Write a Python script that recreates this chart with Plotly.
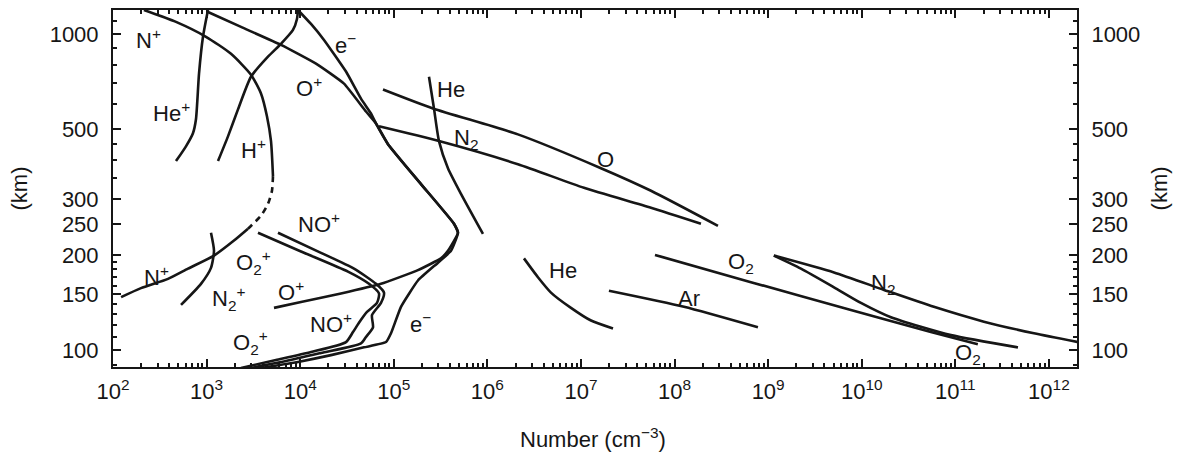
import math
import plotly.graph_objects as go

# ---- species profiles: number density (cm^-3) vs altitude (km) ----
# ions
he_plus_n = [1035, 915, 830, 770, 715, 602, 471]
he_plus_h = [1190, 979, 749, 537, 485, 441, 396]

h_plus_n = [1324, 1693, 2165, 2981, 4529, 6235, 8379, 9243, 9474]
h_plus_h = [396, 474, 577, 732, 847, 930, 1029, 1115, 1190]

n_plus_top_n = [214, 471, 985, 1823, 2981, 3813, 4420, 4877, 5121]
n_plus_top_h = [1190, 1091, 979, 865, 743, 648, 548, 458, 355]
n_plus_mid_n = [5121, 4996, 4529, 3813, 2769]
n_plus_mid_h = [355, 319, 290, 266, 242]
n_plus_low_n = [2769, 1962, 1200, 633, 387, 199, 122]
n_plus_low_h = [242, 222, 199, 181, 168, 157, 147]

n2_plus_n = [1114, 1200, 1114, 871, 533]
n2_plus_h = [235, 206, 182, 162, 139]

o_plus_n = [1035, 2331, 6235, 14750, 29380, 50470, 64540, 86710, 195300,
            439800, 485200, 379300, 319300, 181300, 72990, 27290, 10200, 5250]
o_plus_h = [1173, 1052, 923, 805, 696, 568, 521, 448, 335,
            251, 235, 206, 195, 179, 162, 151, 142, 136]

electron_n = [9474, 13050, 17960, 30860, 44630, 57070, 64540, 86710, 195300,
              439800, 485200, 408500, 296700, 181300, 119400, 93350, 82560,
              48040, 21340, 9474, 3813]
electron_h = [1190, 1075, 957, 760, 624, 560, 521, 448, 335,
              251, 235, 206, 189, 166, 137, 113, 106,
              102, 96.4, 91.7, 87.8]

o2_plus_n = [3541, 10200, 32410, 54330, 69490, 66140, 51720, 42480, 36660,
             30860, 13050, 5514, 2331]
o2_plus_h = [235, 205, 177, 162, 151, 141, 132, 122, 114, 106, 98.6, 93, 87.8]

no_plus_n = [5792, 16680, 37570, 64540, 78590, 72990, 58490, 59960, 50470,
             44630, 16680, 7052, 2981]
no_plus_h = [235, 203, 181, 162, 152, 141, 129, 118, 110, 105, 97.9, 92.3, 87.8]

# neutrals
he_high_n = [237800, 268900, 304100, 379300, 522400, 897400]
he_high_h = [732, 581, 458, 376, 312, 233]

n2_high_n = [69490, 304100, 2.12e6, 1.076e7, 5.6e7, 1.915e8]
n2_high_h = [510, 458, 387, 326, 282, 251]

o_high_n = [76680, 262300, 2.12e6, 1.636e7, 5.6e7, 2.909e8]
o_high_h = [667, 581, 481, 376, 319, 247]

he_low_n = [2.46e6, 3.47e6, 4.78e6, 7.82e6, 1.28e7, 2.2e7]
he_low_h = [195, 170, 152, 136, 124, 117]

ar_n = [1.99e7, 1.26e8, 7.78e8]
ar_h = [154, 137, 118]

o2_n = [6.18e7, 6.55e8, 7.66e9, 5.48e10, 1.74e11]
o2_h = [200, 164, 134, 114, 104.4]

o2_low_n = [1.15e9, 2.24e9, 5.05e9, 9.8e9, 2.05e10, 8.98e10, 4.67e11]
o2_low_h = [199, 181, 158, 141, 127, 111.5, 102]

n2_low_n = [1.15e9, 5.05e9, 1.73e10, 5.9e10, 2.02e11, 6.92e11, 2.04e12]
n2_low_h = [199, 176, 155, 137, 123, 113, 106]

# curve labels: (text, density, altitude)
labels = [
    ("N<sup>+</sup>", 242, 964),
    ("He<sup>+</sup>", 417, 568),
    ("H<sup>+</sup>", 3209, 432),
    ("O<sup>+</sup>", 12420, 681),
    ("e<sup>\u2212</sup>", 30860, 930),
    ("He", 408500, 667),
    ("N<sub>2</sub>", 590800, 464),
    ("O", 1.85e7, 402),
    ("NO<sup>+</sup>", 15880, 253),
    ("O<sub>2</sub><sup>+</sup>", 3209, 189),
    ("N<sup>+</sup>", 288, 172),
    ("N<sub>2</sub><sup>+</sup>", 1735, 146),
    ("O<sup>+</sup>", 7978, 154),
    ("NO<sup>+</sup>", 21340, 122),
    ("O<sub>2</sub><sup>+</sup>", 2981, 106),
    ("e<sup>\u2212</sup>", 195300, 122),
    ("He", 6.42e6, 179),
    ("Ar", 1.425e8, 146),
    ("O<sub>2</sub>", 5.12e8, 189),
    ("N<sub>2</sub>", 1.685e10, 162),
    ("O<sub>2</sub>", 1.363e11, 97.1),
]

x_tick_vals = [10 ** k for k in range(2, 13)]
x_tick_text = ["10<sup>%d</sup>" % k for k in range(2, 13)]
y_tick_vals = [100, 150, 200, 250, 300, 500, 1000]
y_tick_text = ["100", "150", "200", "250", "300", "500", "1000"]

INK = "#161616"
FONT = "Liberation Sans, Arial, sans-serif"
X_RANGE = [2.0, 12.3]
Y_RANGE = [1.9465, 3.0755]

fig = go.Figure()


def curve(n, h, dash="solid", smooth=0.6, yaxis="y"):
    fig.add_trace(go.Scatter(
        x=n, y=h, mode="lines", yaxis=yaxis,
        line=dict(color=INK, width=2.6, dash=dash, shape="spline", smoothing=smooth),
        hoverinfo="skip", showlegend=False,
    ))


curve(he_plus_n, he_plus_h)
curve(h_plus_n, h_plus_h)
curve(n_plus_top_n, n_plus_top_h)
curve(n_plus_mid_n, n_plus_mid_h, dash="6px,5px")
curve(n_plus_low_n, n_plus_low_h)
curve(n2_plus_n, n2_plus_h)
curve(o_plus_n, o_plus_h, smooth=0.4)
curve(electron_n, electron_h, smooth=0.4)
curve(o2_plus_n, o2_plus_h)
curve(no_plus_n, no_plus_h)
curve(he_high_n, he_high_h)
curve(n2_high_n, n2_high_h)
curve(o_high_n, o_high_h)
curve(he_low_n, he_low_h)
curve(ar_n, ar_h)
curve(o2_n, o2_h)
curve(o2_low_n, o2_low_h)
# right-hand altitude axis shares the same range; N2 is plotted against it
curve(n2_low_n, n2_low_h, yaxis="y2")

for text, n, h in labels:
    fig.add_annotation(
        x=math.log10(n), y=math.log10(h), xref="x", yref="y",
        text=text, showarrow=False,
        font=dict(family=FONT, size=22, color=INK),
    )

# axis titles
title_font = dict(family=FONT, size=22, color=INK)
fig.add_annotation(x=-0.0965, y=0.5, xref="paper", yref="paper", text="(km)",
                   textangle=-90, showarrow=False, xanchor="center",
                   yanchor="middle", font=title_font)
fig.add_annotation(x=1.086, y=0.5, xref="paper", yref="paper", text="(km)",
                   textangle=-90, showarrow=False, xanchor="center",
                   yanchor="middle", font=title_font)
fig.add_annotation(x=0.498, y=-0.198, xref="paper", yref="paper",
                   text="Number (cm<sup>\u22123</sup>)", showarrow=False,
                   xanchor="center", yanchor="middle", font=title_font)

x_minor = [m * 10 ** k for k in range(2, 12) for m in range(2, 10)]
y_minor = [90, 110, 120, 130, 140, 160, 170, 180, 190, 350, 400, 450,
           600, 700, 800, 900, 1100]

axis_common = dict(
    type="log", showgrid=False, zeroline=False, showline=True,
    linecolor=INK, linewidth=2, ticks="inside", ticklen=8, tickwidth=2,
    tickcolor=INK, tickfont=dict(family=FONT, size=22, color=INK),
)
minor_ticks = dict(ticks="inside", ticklen=4, tickwidth=1.5, tickcolor=INK)

fig.update_layout(
    width=1187, height=456,
    margin=dict(l=113, r=110, t=8, b=89),
    paper_bgcolor="white", plot_bgcolor="white",
    xaxis=dict(
        **axis_common, range=X_RANGE, mirror="ticks",
        tickmode="array", tickvals=x_tick_vals, ticktext=x_tick_text,
        ticklabelstandoff=4,
        minor=dict(**minor_ticks, tickvals=x_minor),
    ),
    yaxis=dict(
        **axis_common, range=Y_RANGE,
        tickmode="array", tickvals=y_tick_vals, ticktext=y_tick_text,
        ticklabelstandoff=8,
        minor=dict(**minor_ticks, tickvals=y_minor),
    ),
    yaxis2=dict(
        **axis_common, range=Y_RANGE, overlaying="y", side="right", anchor="x",
        tickmode="array", tickvals=y_tick_vals, ticktext=y_tick_text,
        ticklabelstandoff=8,
        minor=dict(**minor_ticks, tickvals=y_minor),
    ),
)

fig.write_html("out.html")
